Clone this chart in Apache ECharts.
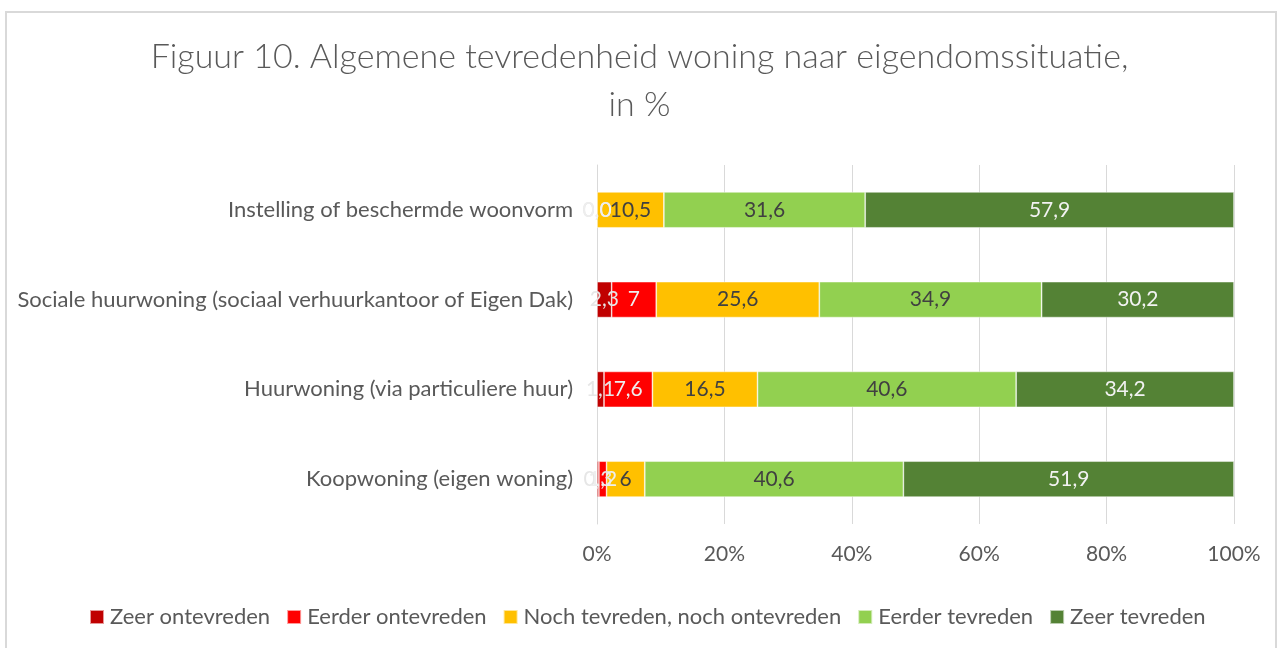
<!DOCTYPE html>
<html>
<head>
<meta charset="utf-8">
<script src="https://cdn.jsdelivr.net/npm/echarts@6/dist/echarts.min.js"></script>
<style>
html,body{margin:0;padding:0;background:#fff;}
#frame{position:absolute;left:5px;top:11px;width:1272px;height:645px;border:2px solid #d9d9d9;box-sizing:border-box;}
#chart{position:absolute;left:0;top:0;width:1279px;height:648px;}
</style>
</head>
<body>
<div id="frame"></div>
<div id="chart"></div>
<script>
const categories = [
  'Koopwoning (eigen woning)',
  'Huurwoning (via particuliere huur)',
  'Sociale huurwoning (sociaal verhuurkantoor of Eigen Dak)',
  'Instelling of beschermde woonvorm'
];
const seriesNames = ['Zeer ontevreden','Eerder ontevreden','Noch tevreden, noch ontevreden','Eerder tevreden','Zeer tevreden'];
const zeerOntevreden   = [0.3, 1.1, 2.3, 0.0];
const eerderOntevreden = [1.2, 7.6, 7, 0.0];
const noch             = [6, 16.5, 25.6, 10.5];
const eerderTevreden   = [40.6, 40.6, 34.9, 31.6];
const zeerTevreden     = [51.9, 34.2, 30.2, 57.9];
const xTicks = [0, 20, 40, 60, 80, 100];
const titleLines = ['Figuur 10. Algemene tevredenheid woning naar eigendomssituatie,', 'in %'];

const colors = ['#C00000','#FF0000','#FFC000','#92D050','#548235'];
const labelColors = ['#e6e6e6','#eeeeee','#404040','#404040','#f2f2f2'];
const values = [zeerOntevreden, eerderOntevreden, noch, eerderTevreden, zeerTevreden];
const FONT = 'Lato';

function fmt(v){
  if (v !== 0 && Number.isInteger(v)) return String(v);
  return v.toFixed(1).replace('.', ',');
}

const titleStyle = {fontFamily:FONT, fontWeight:300, fontSize:34, color:'#595959'};
const chart = echarts.init(document.getElementById('chart'), null, {renderer:'canvas'});
chart.setOption({
  animation:false,
  title:[
    {text:titleLines[0], left:'center', top:35, textStyle:titleStyle},
    {text:titleLines[1], left:'center', top:83, textStyle:titleStyle}
  ],
  legend:{
    top:601, left:84,
    itemWidth:14, itemHeight:14, itemGap:16,
    icon:'rect',
    textStyle:{fontFamily:FONT, fontSize:22, color:'#595959', padding:[0,0,0,1]},
    data: seriesNames
  },
  grid:{left:597, right:45, top:165, bottom:124, containLabel:false},
  xAxis:{
    type:'value', min:0, max:100, interval:20,
    axisLabel:{formatter: v => v + '%', fontFamily:FONT, fontSize:21, color:'#595959', margin:20},
    splitLine:{show:true, lineStyle:{color:'#d9d9d9', width:1}},
    axisLine:{show:false}, axisTick:{show:false}
  },
  yAxis:{
    type:'category', data:categories,
    axisLabel:{fontFamily:FONT, fontSize:22, color:'#595959', margin:24},
    axisLine:{show:true, lineStyle:{color:'#d9d9d9'}},
    axisTick:{show:false}
  },
  series: seriesNames.map((name,i)=>({
    name, type:'bar', stack:'total', barWidth:'40%',
    itemStyle:{color:colors[i], borderColor:'rgba(255,255,255,0.6)', borderWidth:0.75},
    label:{show:true, position:'inside', formatter: p => fmt(p.value),
      fontFamily:FONT, fontSize:21, color:labelColors[i]},
    labelLayout:{hideOverlap:false},
    data: values[i]
  }))
});
</script>
</body>
</html>
